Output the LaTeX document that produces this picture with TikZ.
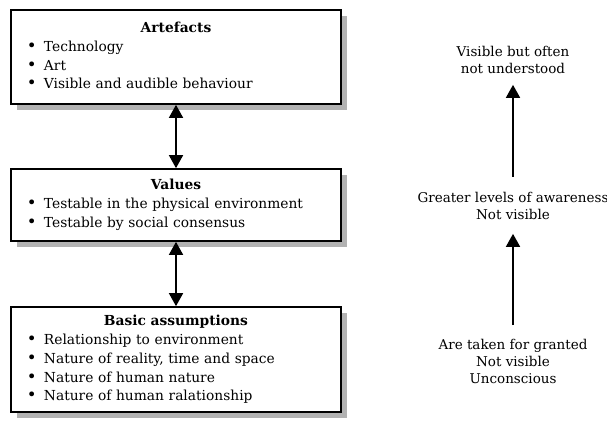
\documentclass[tikz,border=0pt]{standalone}
\usepackage{fontspec}
\setmainfont{DejaVu Serif}
\usepackage{tikz}
\usetikzlibrary{positioning, arrows.meta, shadows}
\newcommand{\bul}{\par\noindent\makebox[17pt][l]{\scalebox{1.2}{\textbullet}}\strut}

\begin{document}
\begin{tikzpicture}[x=1pt,y=-1pt,
    box/.style={draw, line width=1.7pt, fill=white, minimum width=330pt, text width=298pt,
        inner xsep=16pt, inner ysep=0pt, font=\fontsize{13.8}{18.8}\selectfont,
        drop shadow={shadow xshift=6pt, shadow yshift=-6pt, fill=black!30, opacity=1}},
    note/.style={align=center, inner sep=0pt, font=\fontsize{13.5}{17}\selectfont},
    both/.style={{Triangle[width=14pt,length=13pt]}-{Triangle[width=14pt,length=13pt]}, line width=1.7pt},
    up/.style={-{Triangle[width=14pt,length=13pt]}, line width=1.7pt}]
    \useasboundingbox (0,0) rectangle (607,422);

    \node[box, minimum height=94pt] (artefacts) at (176,57) {\centering\textbf{Artefacts}\strut\par\raggedright
        \bul Technology \bul Art \bul Visible and audible behaviour};
    \node[box, minimum height=72pt] (values) at (176,205) {\centering\textbf{Values}\strut\par\raggedright
        \bul Testable in the physical environment \bul Testable by social consensus};
    \node[box, minimum height=105pt] (basic) at (176,359.5) {\centering\textbf{Basic assumptions}\strut\par\raggedright
        \bul Relationship to environment \bul Nature of reality, time and space
        \bul Nature of human nature \bul Nature of human ralationship};

    \draw[both] (artefacts) -- (values);
    \draw[both] (values) -- (basic);

    \node[note, anchor=north] (visible) at (513,46) {Visible but often\\not understood};
    \node[note, anchor=north] (greater) at (513,192) {Greater levels of awareness\\Not visible};
    \node[note, anchor=north] (granted) at (513,339) {Are taken for granted\\Not visible\\Unconscious};

    \draw[up, shorten <=15pt, shorten >=11pt] (greater) -- (visible);
    \draw[up, shorten <=14pt, shorten >=14pt] (granted) -- (greater);
\end{tikzpicture}
\end{document}
